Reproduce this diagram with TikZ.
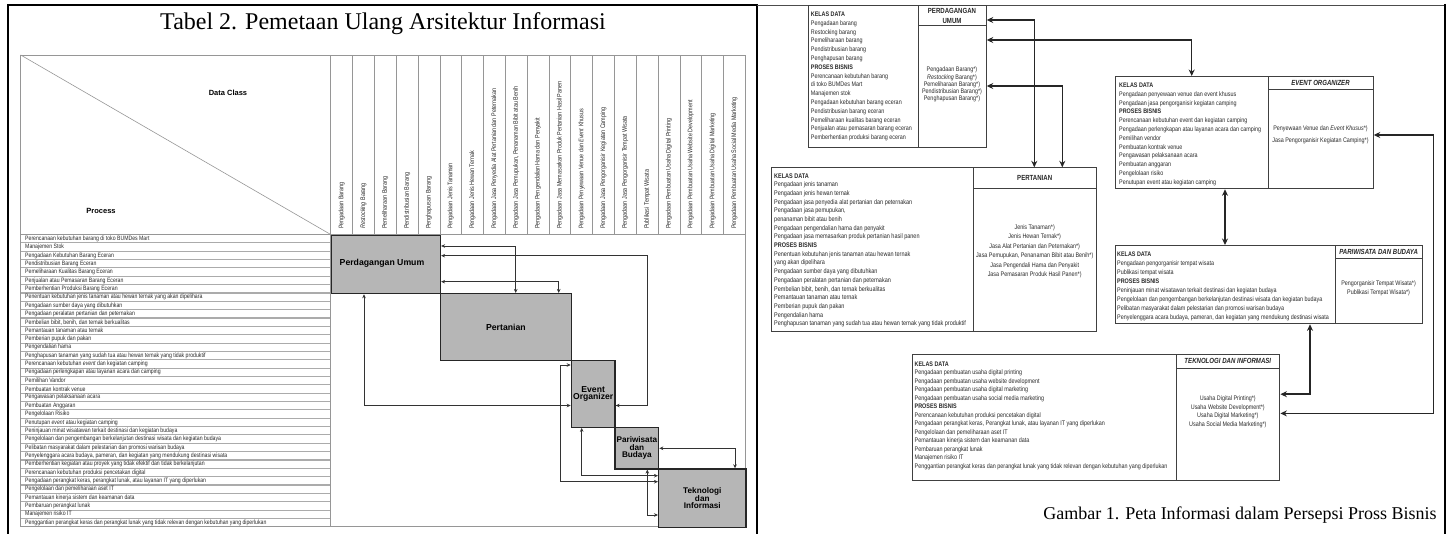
\documentclass[tikz,border=0pt]{standalone}
\usepackage{fontspec}
\setmainfont{Liberation Sans}
\newfontfamily\tnr{Liberation Serif}
\newfontfamily\nar{Liberation Sans}[FakeStretch=0.82]
\usetikzlibrary{arrows.meta}
\definecolor{boxgray}{RGB}{182,182,182}
\definecolor{linegray}{RGB}{150,150,150}
\definecolor{txt}{RGB}{40,40,40}
\tikzset{
 pframe/.style={draw=black, line width=2.5pt},
 tline/.style={draw=linegray, line width=0.6pt},
 rowline/.style={draw=linegray!80, line width=1.1pt},
 rowtxt/.style={font=\nar\fontsize{6.3}{6.3}\selectfont, text=txt, inner sep=0pt, anchor=west},
 coltxt/.style={font=\nar\fontsize{6.6}{6.6}\selectfont, text=txt, inner sep=0pt, anchor=west, rotate=90},
 hdrtxt/.style={font=\bfseries\fontsize{7.5}{7.5}\selectfont, inner sep=0pt},
 gbox/.style={draw=black!85, line width=1.3pt, fill=boxgray, inner sep=0pt, anchor=north west, font=\bfseries\fontsize{8.2}{7.6}\selectfont, align=center},
 glabel/.style={inner sep=0pt, align=center, font=\bfseries\fontsize{8.7}{7.6}\selectfont},
 larr/.style={draw=black!80, line width=0.9pt, {Stealth[length=4pt,width=3.6pt]}-{Stealth[length=4pt,width=3.6pt]}},
 rbox/.style={draw=black!75, line width=1pt, inner sep=0pt, anchor=north west},
 rsep/.style={draw=black!75, line width=1pt},
 rarr/.style={draw=black!85, line width=1.5pt, {Stealth[length=6.5pt,width=6pt]}-{Stealth[length=6.5pt,width=6pt]}},
 blk/.style={inner sep=0pt, text=txt, align=left, anchor=north west},
 ctr/.style={inner sep=0pt, text=txt, align=center, anchor=north},
 rhead/.style={inner sep=0pt, align=center, font=\nar\bfseries\fontsize{7.4}{10}\selectfont, text=black!85},
 ttl/.style={inner sep=0pt, font=\tnr\fontsize{24}{24}\selectfont},
}
\begin{document}
\begin{tikzpicture}[x=1pt,y=-1pt]
\useasboundingbox (0,0) rectangle (1449,533);
% ---------------- left panel ----------------
\draw[pframe] (8,5) rectangle (757,545);
\node[ttl] (title) at (383,24) {Tabel 2. Pemetaan Ulang Arsitektur Informasi};
\draw[tline] (20.7,55) rectangle (745.3,526.75);
\draw[tline] (20.7,55) -- (330.7,234.5);
\foreach \i in {0,...,19} \draw[tline] ({330.7+21.82*\i},55) -- ({330.7+21.82*\i},234.5);
\draw[tline] (20.7,234.5) -- (745.3,234.5);
\foreach \i in {1,...,34} \draw[rowline] (20.7,{234.5+8.35*\i}) -- (330.7,{234.5+8.35*\i});
\draw[tline] (330.7,234.5) -- (330.7,526.75);
\node[hdrtxt] (dc) at (228,93) {Data Class};
\node[hdrtxt] (pr) at (101,211) {Process};
\foreach \t [count=\n] in {{Pengadaan Barang},{\textit{Restocking} Barang},{Pemeliharaan Barang},{Pendistribusian Barang},{Penghapusan Barang},{Pengadaan Jenis Tanaman},{Pengadaan Jenis Hewan Ternak},{Pengadaan Jasa Penyedia Alat Pertanian dan Peternakan},{Pengadaan Jasa Pemupukan, Penanaman Bibit atau Benih},{Pengadaan Pengendalian Hama dan Penyakit},{Pengadaan Jasa Memasarkan Produk Pertanian Hasil Panen},{Pengadaan Penyewaan Venue dan \textit{Event} Khusus},{Pengadaan Jasa Pengorganisir Kegiatan Camping},{Pengadaan Jasa Pengorganisir Tempat Wisata},{Publikasi Tempat Wisata},{Pengadaan Pembuatan Usaha Digital Printing},{Pengadaan Pembuatan Usaha Website Development},{Pengadaan Pembuatan Usaha Digital Marketing},{Pengadaan Pembuatan Usaha Social Media Marketing}}
  \node[coltxt] (col\n) at ({330.7+21.82*(\n-0.5)},229) {\t};
\foreach \t [count=\n] in {{Perencanaan kebutuhan barang di toko BUMDes Mart},{Manajemen Stok},{Pengadaan Kebutuhan Barang Eceran},{Pendistribusian Barang Eceran},{Pemeliharaan Kualitas Barang Eceran},{Penjualan atau Pemasaran Barang Eceran},{Pemberhentian Produksi Barang Eceran},{Penentuan kebutuhan jenis tanaman atau hewan ternak yang akan dipelihara},{Pengadaan sumber daya yang dibutuhkan},{Pengadaan peralatan pertanian dan peternakan},{Pembelian bibit, benih, dan ternak berkualitas},{Pemantauan tanaman atau ternak},{Pemberian pupuk dan pakan},{Pengendalian hama},{Penghapusan tanaman yang sudah tua atau hewan ternak yang tidak produktif},{Perencanaan kebutuhan \textit{event} dan kegiatan camping},{Pengadaan perlengkapan atau layanan acara dan camping},{Pemilihan Vandor},{Pembuatan kontrak venue},{Pengawasan pelaksanaan acara},{Pembuatan Anggaran},{Pengelolaan Risiko},{Penutupan \textit{event} atau kegiatan camping},{Peninjauan minat wisatawan terkait destinasi dan kegiatan budaya},{Pengelolaan dan pengembangan berkelanjutan destinasi wisata dan kegiatan budaya},{Pelibatan masyarakat dalam pelestarian dan promosi warisan budaya},{Penyelenggara acara budaya, pameran, dan kegiatan yang mendukung destinasi wisata},{Pemberhentian kegiatan atau proyek yang tidak efektif dan tidak berkelanjutan},{Perencanaan kebutuhan produksi pencetakan digital},{Pengadaan perangkat keras, perangkat lunak, atau layanan IT yang diperlukan},{Pengelolaan dan pemeliharaan aset IT},{Pemantauan kinerja sistem dan keamanan data},{Pembaruan perangkat lunak},{Manajemen risiko IT},{Penggantian perangkat keras dan perangkat lunak yang tidak relevan dengan kebutuhan yang diperlukan}}
  \node[rowtxt] (row\n) at (25,{234.5+8.35*(\n-0.5)}) {\t};
% gray blocks
\node[gbox, minimum width=109.1pt, minimum height=58.45pt] (lPU) at (330.7,234.5) {};
\node[glabel] (lPUt) at (382,263.7) {Perdagangan Umum};
\node[gbox, minimum width=130.9pt, minimum height=66.8pt] (lPT) at (439.8,292.95) {};
\node[glabel] (lPTt) at (lPT.center) {Pertanian};
\node[gbox, minimum width=43.64pt, minimum height=66.8pt] (lEO) at (570.7,359.75) {};
\node[glabel, font=\bfseries\fontsize{8.6}{7.4}\selectfont] (lEOt) at (lEO.center) {Event\\Organizer};
\node[gbox, minimum width=43.64pt, minimum height=41.75pt] (lPB) at (614.34,426.55) {};
\node[glabel, font=\bfseries\fontsize{8.2}{7.6}\selectfont] (lPBt) at (lPB.center) {Pariwisata\\dan\\Budaya};
\node[gbox, minimum width=87.3pt, minimum height=58.45pt] (lTI) at (657.98,468.3) {};
\node[glabel, font=\bfseries\fontsize{8.2}{7.7}\selectfont] (lTIt) at (lTI.center) {Teknologi\\dan\\Informasi};
% left arrows
\draw[larr] (lPU.east |- 0,246) -- (515.7,246) -- (515.7,0 |- lPT.north);
\draw[larr] (lPU.east |- 0,255.7) -- (647,255.7) -- (647,405.5) -- (lEO.east |- 0,405.5);
\draw[larr] (lPU.east |- 0,281.7) -- (558.7,281.7) -- (558.7,0 |- lPT.north);
\draw[larr] (364,0 |- lPU.south) -- (364,405.5) -- (lEO.west |- 0,405.5);
\draw[larr] (lEO.west |- 0,365) -- (560,365) -- (560,481.7) -- (lTI.west |- 0,481.7);
\draw[larr] (581.7,0 |- lEO.south) -- (581.7,475.7) -- (lTI.west |- 0,475.7);
\draw[larr] (647.3,0 |- lPB.south) -- (647.3,515) -- (lTI.west |- 0,515);
\draw[larr] (lPB.east |- 0,448.3) -- (735,448.3) -- (735,0 |- lTI.north);
% ---------------- right panel ----------------
\draw[draw=black!70, line width=0.8pt] (757,5) -- (1445,5);
\draw[draw=black, line width=2.5pt] (1445,3.75) -- (1445,545);
% Perdagangan Umum
\node[rbox, minimum width=178pt, minimum height=141.7pt] (rPU) at (807.7,5) {};
\draw[rsep] (918.3,0 |- rPU.north) -- (918.3,0 |- rPU.south);
\draw[rsep] (918.3,25.7) -- (rPU.east |- 0,25.7);
\node[rhead] (hPU) at (952,15.5) {PERDAGANGAN\\UMUM};
\node[blk, font=\nar\fontsize{6.6}{8.8}\selectfont] (tPU) at (810.7,11.6) {\textbf{KELAS DATA}\\Pengadaan barang\\Restocking barang\\Pemeliharaan barang\\Pendistribusian barang\\Penghapusan barang\\\textbf{PROSES BISNIS}\\Perencanaan kebutuhan barang\\di toko BUMDes Mart\\Manajemen stok\\Pengadaan kebutuhan barang eceran\\Pendistribusian barang eceran\\Pemeliharaan kualitas barang eceran\\Penjualan atau pemasaran barang eceran\\Pemberhentian produksi barang eceran};
\node[ctr, font=\nar\fontsize{6.6}{6.1}\selectfont] (sPU) at (952,66.9) {Pengadaan Barang*)\\\textit{Restocking} Barang*)\\Pemeliharaan Barang*)\\Pendistribusian Barang*)\\Penghapusan Barang*)};
% Pertanian
\node[rbox, minimum width=325pt, minimum height=163.4pt] (rPT) at (771,167.3) {};
\draw[rsep] (973.3,0 |- rPT.north) -- (973.3,0 |- rPT.south);
\draw[rsep] (973.3,188.3) -- (rPT.east |- 0,188.3);
\node[rhead] (hPT) at (1034.7,177.8) {PERTANIAN};
\node[blk, font=\nar\fontsize{6.7}{8.68}\selectfont] (tPT) at (774,173.3) {\textbf{KELAS DATA}\\Pengadaan jenis tanaman\\Pengadaan jenis hewan ternak\\Pengadaan jasa penyedia alat pertanian dan peternakan\\Pengadaan jasa pemupukan,\\penanaman bibit atau benih\\Pengadaan pengendalian hama dan penyakit\\Pengadaan jasa memasarkan produk pertanian hasil panen\\\textbf{PROSES BISNIS}\\Penentuan kebutuhan jenis tanaman atau hewan ternak\\yang akan dipelihara\\Pengadaan sumber daya yang dibutuhkan\\Pengadaan peralatan pertanian dan peternakan\\Pembelian bibit, benih, dan ternak berkualitas\\Pemantauan tanaman atau ternak\\Pemberian pupuk dan pakan\\Pengendalian hama\\Penghapusan tanaman yang sudah tua atau hewan ternak yang tidak produktif};
\node[ctr, font=\nar\fontsize{6.6}{9.46}\selectfont] (sPT) at (1034.7,224.3) {Jenis Tanaman*)\\Jenis Hewan Ternak*)\\Jasa Alat Pertanian dan Peternakan*)\\Jasa Pemupukan, Penanaman Bibit atau Benih*)\\Jasa Pengendali Hama dan Penyakit\\Jasa Pemasaran Produk Hasil Panen*)};
% Event Organizer
\node[rbox, minimum width=257.7pt, minimum height=112.3pt] (rEO) at (1115,76) {};
\draw[rsep] (1268.3,0 |- rEO.north) -- (1268.3,0 |- rEO.south);
\draw[rsep] (1268.3,89.3) -- (rEO.east |- 0,89.3);
\node[rhead, font=\nar\bfseries\itshape\fontsize{7.4}{10}\selectfont] (hEO) at (1320.5,82.7) {EVENT ORGANIZER};
\node[blk, font=\nar\fontsize{6.6}{8.82}\selectfont] (tEO) at (1119,82.6) {\textbf{KELAS DATA}\\Pengadaan penyewaan venue dan event khusus\\Pengadaan jasa pengorganisir kegiatan camping\\\textbf{PROSES BISNIS}\\Perencanaan kebutuhan event dan kegiatan camping\\Pengadaan perlengkapan atau layanan acara dan camping\\Pemilihan vendor\\Pembuatan kontrak venue\\Pengawasan pelaksanaan acara\\Pembuatan anggaran\\Pengelolaan risiko\\Penutupan event atau kegiatan camping};
\node[ctr, font=\nar\fontsize{6.6}{11.7}\selectfont] (sEO) at (1320.5,125.9) {Penyewaan Venue dan \textit{Event Khusus}*)\\Jasa Pengorganisir Kegiatan Camping*)};
% Pariwisata dan Budaya
\node[rbox, minimum width=307.8pt, minimum height=78.3pt] (rPB) at (1114.5,245) {};
\draw[rsep] (1335,0 |- rPB.north) -- (1335,0 |- rPB.south);
\draw[rsep] (1335,258.3) -- (rPB.east |- 0,258.3);
\node[rhead, font=\nar\bfseries\itshape\fontsize{7.4}{10}\selectfont] (hPB) at (1378.6,251.7) {PARIWISATA DAN BUDAYA};
\node[blk, font=\nar\fontsize{6.6}{8.95}\selectfont] (tPB) at (1117,251.6) {\textbf{KELAS DATA}\\Pengadaan pengorganisir tempat wisata\\Publikasi tempat wisata\\\textbf{PROSES BISNIS}\\Peninjauan minat wisatawan terkait destinasi dan kegiatan budaya\\Pengelolaan dan pengembangan berkelanjutan destinasi wisata dan kegiatan budaya\\Pelibatan masyarakat dalam pelestarian dan promosi warisan budaya\\Penyelenggara acara budaya, pameran, dan kegiatan yang mendukung destinasi wisata};
\node[ctr, font=\nar\fontsize{6.6}{8.4}\selectfont] (sPB) at (1378.6,280.9) {Pengorganisir Tempat Wisata*)\\Publikasi Tempat Wisata*)};
% Teknologi dan Informasi
\node[rbox, minimum width=367.2pt, minimum height=125.9pt] (rTI) at (912.2,354) {};
\draw[rsep] (1176.2,0 |- rTI.north) -- (1176.2,0 |- rTI.south);
\draw[rsep] (1176.2,368) -- (rTI.east |- 0,368);
\node[rhead, font=\nar\bfseries\itshape\fontsize{7.4}{10}\selectfont] (hTI) at (1227.8,361) {TEKNOLOGI DAN INFORMASI};
\node[blk, font=\nar\fontsize{6.6}{8.52}\selectfont] (tTI) at (914.5,361.4) {\textbf{KELAS DATA}\\Pengadaan pembuatan usaha digital printing\\Pengadaan pembuatan usaha website development\\Pengadaan pembuatan usaha digital marketing\\Pengadaan pembuatan usaha social media marketing\\\textbf{PROSES BISNIS}\\Perencanaan kebutuhan produksi pencetakan digital\\Pengadaan perangkat keras, Perangkat lunak, atau layanan IT yang diperlukan\\Pengelolaan dan pemeliharaan aset IT\\Pemantauan kinerja sistem dan keamanan data\\Pembaruan perangkat lunak\\Manajemen risiko IT\\Penggantian perangkat keras dan perangkat lunak yang tidak relevan dengan kebutuhan yang diperlukan};
\node[ctr, font=\nar\fontsize{6.6}{8.73}\selectfont] (sTI) at (1227.8,395.4) {Usaha Digital Printing*)\\Usaha Website Development*)\\Usaha Digital Marketing*)\\Usaha Social Media Marketing*)};
% right arrows
\draw[rarr] (rPU.east |- 0,20) -- (1034.3,20) -- (1034.3,0 |- rPT.north);
\draw[rarr] (rPU.east |- 0,40) -- (1191.7,40) -- (1191.7,0 |- rEO.north);
\draw[rarr] (rPU.east |- 0,86) -- (1062.3,86) -- (1062.3,0 |- rPT.north);
\draw[rarr] (1225,0 |- rEO.south) -- (1225,0 |- rPB.north);
\draw[rarr] (1310,0 |- rPB.south) -- (1310,394.2) -- (rTI.east |- 0,394.2);
\draw[rarr] (rEO.east |- 0,135) -- (1433.3,135) -- (1433.3,413.4) -- (rTI.east |- 0,413.4);
% caption
\node[inner sep=0pt, font=\tnr\fontsize{18}{18}\selectfont] (cap) at (1240,515) {Gambar 1. Peta Informasi dalam Persepsi Pross Bisnis};
\end{tikzpicture}
\end{document}
